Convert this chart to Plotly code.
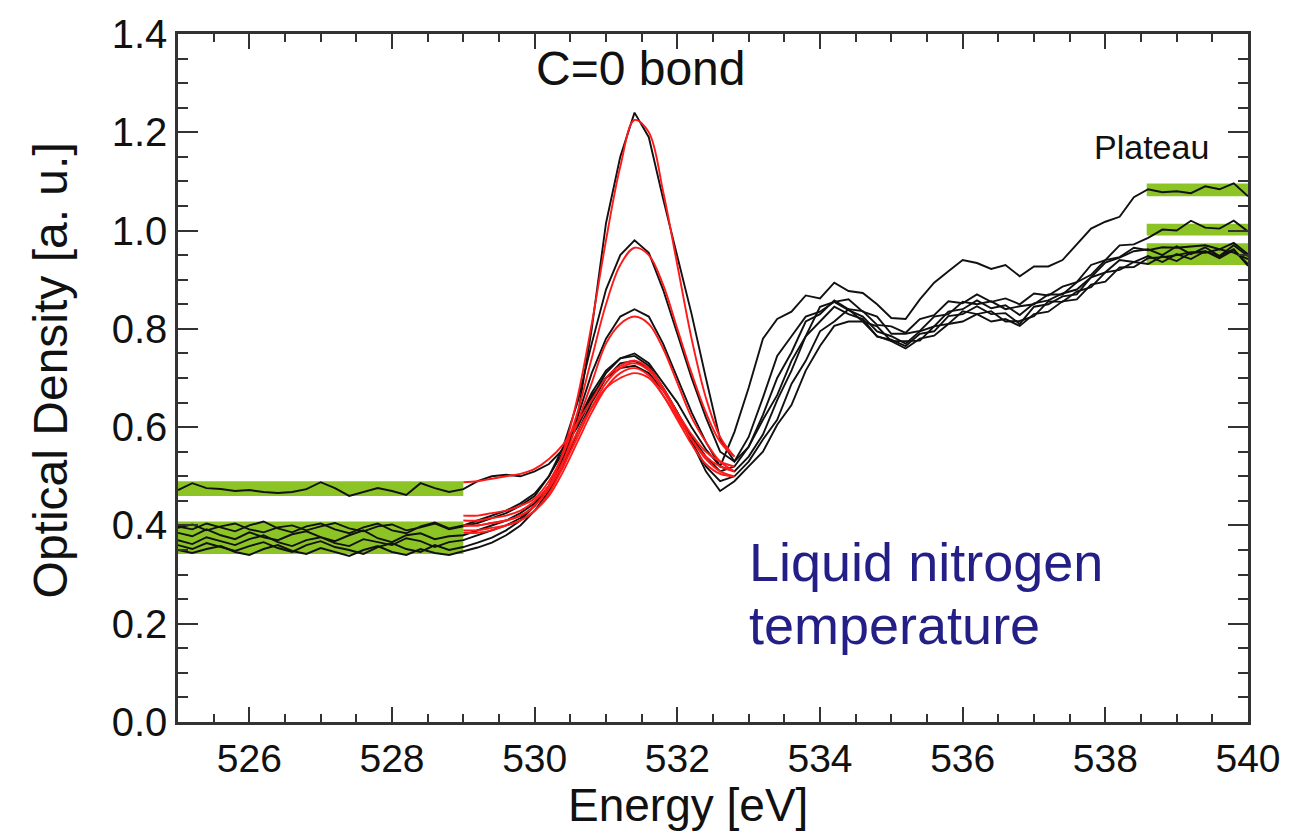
import numpy as np
import plotly.graph_objects as go

# ---------------- data ----------------
energy = [round(525 + 0.2 * i, 1) for i in range(76)]  # 525.0 ... 540.0 eV

# pre-edge (525.0-529.0), edge (529.2-533.0), post-edge (533.2-540.0)
spec_A = [0.385, 0.378, 0.392, 0.380, 0.372, 0.386, 0.376, 0.370, 0.382, 0.388, 0.376, 0.368, 0.380, 0.390, 0.374, 0.366, 0.380, 0.384, 0.372, 0.378, 0.380,
          0.390, 0.400, 0.410, 0.425, 0.445, 0.480, 0.530, 0.620, 0.800, 1.015, 1.150, 1.240, 1.190, 1.065, 0.950, 0.830, 0.700, 0.575, 0.530, 0.580,
          0.660, 0.745, 0.785, 0.825, 0.835, 0.855, 0.838, 0.825, 0.795, 0.785, 0.770, 0.795, 0.805, 0.835, 0.840, 0.858, 0.842, 0.848, 0.828, 0.852,
          0.858, 0.872, 0.880, 0.905, 0.935, 0.945, 0.958, 0.962, 0.950, 0.968, 0.952, 0.966, 0.948, 0.970, 0.948]
spec_B = [0.395, 0.402, 0.390, 0.398, 0.404, 0.392, 0.386, 0.396, 0.400, 0.390, 0.398, 0.405, 0.394, 0.388, 0.398, 0.402, 0.390, 0.396, 0.404, 0.392, 0.398,
          0.405, 0.415, 0.425, 0.440, 0.460, 0.500, 0.560, 0.650, 0.770, 0.880, 0.950, 0.980, 0.955, 0.880, 0.790, 0.700, 0.620, 0.550, 0.530, 0.560,
          0.625, 0.700, 0.752, 0.815, 0.830, 0.858, 0.840, 0.836, 0.808, 0.805, 0.792, 0.820, 0.828, 0.856, 0.852, 0.870, 0.855, 0.862, 0.850, 0.872,
          0.868, 0.886, 0.895, 0.930, 0.940, 0.970, 0.972, 0.985, 1.002, 1.000, 1.020, 1.006, 1.004, 1.020, 0.998]
spec_C = [0.370, 0.362, 0.376, 0.368, 0.360, 0.372, 0.380, 0.366, 0.358, 0.370, 0.376, 0.364, 0.358, 0.372, 0.366, 0.360, 0.374, 0.368, 0.356, 0.366, 0.370,
          0.380, 0.390, 0.400, 0.415, 0.440, 0.480, 0.540, 0.620, 0.710, 0.780, 0.825, 0.840, 0.825, 0.770, 0.700, 0.630, 0.570, 0.520, 0.510, 0.540,
          0.585, 0.655, 0.715, 0.785, 0.815, 0.845, 0.830, 0.820, 0.784, 0.778, 0.765, 0.790, 0.795, 0.826, 0.830, 0.846, 0.830, 0.832, 0.810, 0.845,
          0.850, 0.866, 0.870, 0.905, 0.915, 0.940, 0.936, 0.948, 0.936, 0.952, 0.942, 0.958, 0.944, 0.960, 0.932]
spec_D = [0.472, 0.486, 0.476, 0.474, 0.470, 0.472, 0.468, 0.466, 0.468, 0.474, 0.488, 0.476, 0.460, 0.468, 0.476, 0.470, 0.462, 0.486, 0.476, 0.468, 0.474,
          0.490, 0.500, 0.503, 0.500, 0.510, 0.525, 0.555, 0.600, 0.660, 0.710, 0.740, 0.750, 0.730, 0.690, 0.650, 0.600, 0.555, 0.520, 0.590, 0.680,
          0.780, 0.820, 0.835, 0.868, 0.862, 0.894, 0.877, 0.873, 0.850, 0.822, 0.820, 0.860, 0.894, 0.917, 0.940, 0.934, 0.922, 0.930, 0.907, 0.927,
          0.927, 0.940, 0.972, 1.004, 1.018, 1.028, 1.068, 1.084, 1.078, 1.080, 1.076, 1.090, 1.084, 1.096, 1.070]
spec_E = [0.360, 0.352, 0.364, 0.356, 0.348, 0.358, 0.366, 0.354, 0.346, 0.360, 0.368, 0.356, 0.350, 0.342, 0.356, 0.364, 0.352, 0.346, 0.360, 0.350, 0.356,
          0.365, 0.375, 0.390, 0.410, 0.440, 0.480, 0.540, 0.610, 0.670, 0.715, 0.740, 0.745, 0.725, 0.680, 0.630, 0.570, 0.520, 0.490, 0.500, 0.530,
          0.575, 0.615, 0.688, 0.735, 0.795, 0.815, 0.840, 0.815, 0.805, 0.775, 0.775, 0.776, 0.805, 0.810, 0.836, 0.830, 0.836, 0.815, 0.816, 0.826,
          0.856, 0.855, 0.876, 0.885, 0.915, 0.920, 0.936, 0.932, 0.948, 0.938, 0.955, 0.958, 0.948, 0.962, 0.928]
spec_F = [0.350, 0.344, 0.352, 0.358, 0.346, 0.340, 0.352, 0.360, 0.348, 0.342, 0.354, 0.346, 0.338, 0.350, 0.358, 0.346, 0.340, 0.352, 0.344, 0.340, 0.348,
          0.355, 0.365, 0.380, 0.400, 0.430, 0.470, 0.520, 0.590, 0.650, 0.700, 0.730, 0.735, 0.720, 0.680, 0.630, 0.570, 0.510, 0.470, 0.490, 0.520,
          0.550, 0.605, 0.645, 0.715, 0.765, 0.806, 0.815, 0.815, 0.785, 0.775, 0.760, 0.780, 0.786, 0.810, 0.815, 0.830, 0.815, 0.820, 0.806, 0.830,
          0.835, 0.856, 0.860, 0.890, 0.896, 0.925, 0.926, 0.944, 0.946, 0.950, 0.956, 0.955, 0.962, 0.955, 0.942]
spec_G = [0.398, 0.392, 0.404, 0.396, 0.388, 0.400, 0.408, 0.394, 0.386, 0.398, 0.404, 0.392, 0.384, 0.396, 0.404, 0.390, 0.384, 0.398, 0.406, 0.394, 0.400,
          0.410, 0.420, 0.430, 0.445, 0.465, 0.500, 0.550, 0.610, 0.665, 0.700, 0.720, 0.725, 0.710, 0.675, 0.630, 0.580, 0.540, 0.510, 0.520, 0.560,
          0.615, 0.665, 0.735, 0.785, 0.845, 0.855, 0.860, 0.835, 0.825, 0.790, 0.790, 0.796, 0.825, 0.830, 0.855, 0.850, 0.856, 0.840, 0.846, 0.850,
          0.870, 0.870, 0.895, 0.910, 0.940, 0.946, 0.965, 0.960, 0.966, 0.965, 0.968, 0.970, 0.962, 0.975, 0.952]
spectra = [spec_A, spec_B, spec_C, spec_D, spec_E, spec_F, spec_G]

# Gaussian-fit curves (red) over the C=O edge region
fit_energy = [round(529.0 + 0.2 * i, 1) for i in range(20)]  # 529.0 ... 532.8
fit_A = [0.400, 0.400, 0.405, 0.410, 0.420, 0.440, 0.480, 0.550, 0.660, 0.810, 0.980, 1.130, 1.225, 1.200, 1.080, 0.930, 0.780, 0.660, 0.580, 0.540]
fit_B = [0.420, 0.420, 0.425, 0.430, 0.440, 0.455, 0.490, 0.545, 0.630, 0.740, 0.850, 0.930, 0.965, 0.950, 0.890, 0.800, 0.710, 0.630, 0.570, 0.540]
fit_C = [0.400, 0.400, 0.405, 0.410, 0.420, 0.440, 0.475, 0.530, 0.610, 0.690, 0.770, 0.810, 0.825, 0.810, 0.760, 0.690, 0.620, 0.570, 0.530, 0.510]
fit_D = [0.488, 0.490, 0.495, 0.500, 0.505, 0.515, 0.535, 0.565, 0.610, 0.655, 0.700, 0.725, 0.735, 0.720, 0.680, 0.630, 0.585, 0.550, 0.530, 0.520]
fit_E = [0.385, 0.385, 0.390, 0.400, 0.410, 0.430, 0.465, 0.520, 0.580, 0.640, 0.690, 0.720, 0.730, 0.715, 0.675, 0.625, 0.575, 0.535, 0.510, 0.500]
fit_F = [0.390, 0.390, 0.395, 0.400, 0.410, 0.430, 0.460, 0.510, 0.570, 0.630, 0.680, 0.710, 0.720, 0.705, 0.665, 0.615, 0.565, 0.525, 0.505, 0.500]
fit_G = [0.410, 0.410, 0.415, 0.420, 0.430, 0.450, 0.480, 0.530, 0.590, 0.640, 0.680, 0.700, 0.710, 0.700, 0.665, 0.620, 0.575, 0.540, 0.520, 0.510]
fits = [fit_A, fit_B, fit_C, fit_D, fit_E, fit_F, fit_G]

# green averaging bands (pre-edge and plateau)
band_x0 = [525.0, 525.0, 538.58, 538.58, 538.58]
band_x1 = [529.0, 529.0, 540.0, 540.0, 540.0]
band_y0 = [0.460, 0.342, 1.070, 0.990, 0.930]
band_y1 = [0.490, 0.408, 1.096, 1.014, 0.974]

x_ticks = [526, 528, 530, 532, 534, 536, 538, 540]
y_ticks = [0.0, 0.2, 0.4, 0.6, 0.8, 1.0, 1.2, 1.4]

# ---------------- figure ----------------
FONT = "Liberation Sans, Arial, Helvetica, sans-serif"
GREEN = "#8cc425"
fig = go.Figure()

for x0, x1, y0, y1 in zip(band_x0, band_x1, band_y0, band_y1):
    fig.add_shape(type="rect", xref="x", yref="y", x0=x0, x1=x1, y0=y0, y1=y1,
                  fillcolor=GREEN, line=dict(width=0), layer="below")

for s in spectra:
    fig.add_trace(go.Scatter(x=energy, y=s, mode="lines",
                             line=dict(color="#111111", width=1.9),
                             showlegend=False, hoverinfo="skip"))
for f in fits:
    fig.add_trace(go.Scatter(x=fit_energy, y=f, mode="lines",
                             line=dict(color="#ff1a1a", width=1.9, shape="spline"),
                             showlegend=False, hoverinfo="skip"))

axis_common = dict(showline=True, linecolor="#333333", linewidth=2.5, mirror="ticks",
                   ticks="inside", tickcolor="#333333", showgrid=False, zeroline=False)

fig.update_xaxes(range=[525, 540], tickvals=x_ticks, ticklen=15, tickwidth=2,
                 tickfont=dict(family=FONT, size=39, color="#111111"),
                 minor=dict(dtick=0.5, ticks="inside", ticklen=8, tickcolor="#333333", tickwidth=2),
                 **axis_common)
fig.update_yaxes(range=[0, 1.4], tickvals=y_ticks, tickformat=".1f", ticklen=20, tickwidth=2,
                 tickfont=dict(family=FONT, size=40, color="#111111"),
                 minor=dict(dtick=0.05, ticks="inside", ticklen=10, tickcolor="#333333", tickwidth=2),
                 **axis_common)

# axis titles
fig.add_annotation(x=0.4766, y=-0.1202, xref="paper", yref="paper", text="Energy [eV]", showarrow=False,
                   font=dict(family=FONT, size=46, color="#111111"), xanchor="center", yanchor="middle")
fig.add_annotation(x=-0.1196, y=0.511, xref="paper", yref="paper", text="Optical Density [a. u.]", showarrow=False,
                   textangle=-90, font=dict(family=FONT, size=48, color="#111111"), xanchor="center", yanchor="middle")

fig.add_annotation(x=531.49, y=1.33, xref="x", yref="y", text="C=0 bond", showarrow=False,
                   font=dict(family=FONT, size=48, color="#111111"), xanchor="center", yanchor="middle")
fig.add_annotation(x=538.65, y=1.17, xref="x", yref="y", text="Plateau", showarrow=False,
                   font=dict(family=FONT, size=34, color="#111111"), xanchor="center", yanchor="middle")
fig.add_annotation(x=532.98, y=0.325, xref="x", yref="y", text="Liquid nitrogen", showarrow=False,
                   font=dict(family=FONT, size=54, color="#231f86"), xanchor="left", yanchor="middle")
fig.add_annotation(x=532.98, y=0.198, xref="x", yref="y", text="temperature", showarrow=False,
                   font=dict(family=FONT, size=54, color="#231f86"), xanchor="left", yanchor="middle")

fig.update_layout(width=1305, height=837, margin=dict(l=178, r=57, t=23, b=115),
                  paper_bgcolor="white", plot_bgcolor="white", font=dict(family=FONT))

fig.write_html("out.html")
